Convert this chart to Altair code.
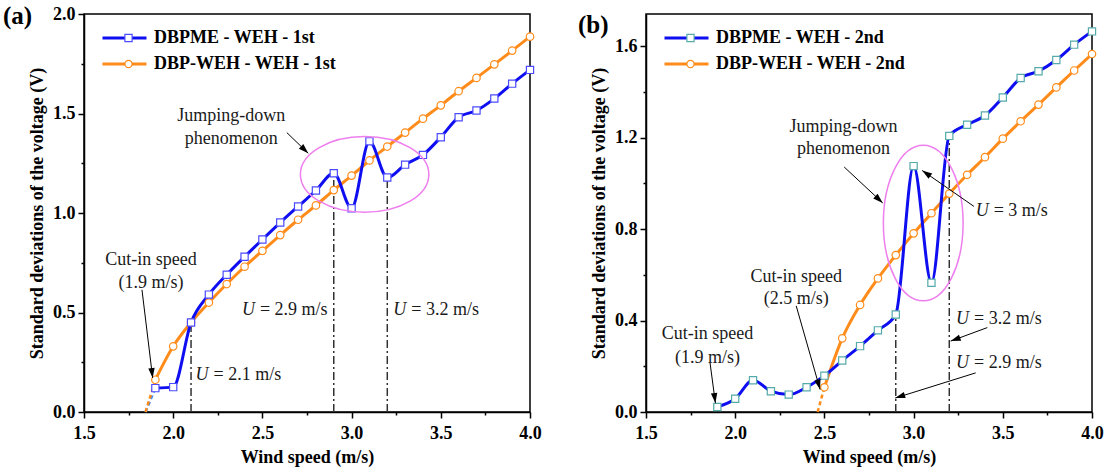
import math
import altair as alt
import pandas as pd

FONT = "Liberation Serif"
W, H = 446, 398

# ---------------- data: panel (a) ----------------
a_x = [1.9, 2.0, 2.1, 2.2, 2.3, 2.4, 2.5, 2.6, 2.7, 2.8, 2.9, 3.0,
       3.1, 3.2, 3.3, 3.4, 3.5, 3.6, 3.7, 3.8, 3.9, 4.0]
a_dbpme = [0.12, 0.125, 0.45, 0.59, 0.69, 0.78, 0.867, 0.952, 1.033, 1.113, 1.20, 1.024,
           1.36, 1.178, 1.243, 1.292, 1.381, 1.481, 1.515, 1.575, 1.65, 1.719]
a_dbpweh = [0.162, 0.33, 0.45, 0.55, 0.643, 0.73, 0.81, 0.889, 0.966, 1.038, 1.115, 1.188,
            1.264, 1.334, 1.404, 1.474, 1.541, 1.612, 1.679, 1.747, 1.816, 1.886]
a_names = ["DBPME - WEH - 1st", "DBP-WEH - WEH - 1st"]

# ---------------- data: panel (b) ----------------
b_x_blue = [1.9, 2.0, 2.1, 2.2, 2.3, 2.4, 2.5, 2.6, 2.7, 2.8, 2.9, 3.0,
            3.1, 3.2, 3.3, 3.4, 3.5, 3.6, 3.7, 3.8, 3.9, 4.0]
b_dbpme = [0.022, 0.058, 0.139, 0.091, 0.076, 0.108, 0.159, 0.225, 0.288, 0.357, 0.426, 1.075,
           0.565, 1.207, 1.256, 1.296, 1.375, 1.46, 1.49, 1.539, 1.606, 1.664]
b_x_orange = [2.5, 2.6, 2.7, 2.8, 2.9, 3.0, 3.1, 3.2, 3.3, 3.4, 3.5, 3.6, 3.7, 3.8, 3.9, 4.0]
b_dbpweh = [0.108, 0.322, 0.468, 0.584, 0.686, 0.781, 0.869, 0.955, 1.037, 1.114, 1.195,
            1.271, 1.344, 1.419, 1.493, 1.565]
b_names = ["DBPME - WEH - 2nd", "DBP-WEH - WEH - 2nd"]

# ---------------- ticks ----------------
x_ticks = [1.5, 1.75, 2.0, 2.25, 2.5, 2.75, 3.0, 3.25, 3.5, 3.75, 4.0]
ya_ticks = [0.0, 0.25, 0.5, 0.75, 1.0, 1.25, 1.5, 1.75, 2.0]
yb_ticks = [0.0, 0.2, 0.4, 0.6, 0.8, 1.0, 1.2, 1.4, 1.6]

# ---------------- annotations (a) ----------------
a_txt = ["Jumping-down", "phenomenon", "Cut-in speed", "(1.9 m/s)"]
a_txt_x = [2.326, 2.326, 1.875, 1.875]
a_txt_y = [1.485, 1.372, 0.765, 0.648]
a_u_x = [2.125, 2.385, 3.234]
a_u_y = [0.187, 0.514, 0.514]
a_u_rest = ["= 2.1 m/s", "= 2.9 m/s", "= 3.2 m/s"]
a_arr_x1 = [2.637, 1.825]
a_arr_y1 = [1.404, 0.614]
a_arr_x2 = [2.757, 1.885]
a_arr_y2 = [1.300, 0.171]
a_vl_x = [2.1, 2.9, 3.2]
a_vl_top = [0.45, 1.20, 1.178]
a_ell = (3.073, 1.194, 0.36, 0.19)   # centre x, centre y, half width, half height
a_ext_blue = ([1.845, 1.9], [0.0, 0.12])
a_ext_orange = ([1.845, 1.9], [0.0, 0.162])

# ---------------- annotations (b) ----------------
b_txt = ["Jumping-down", "phenomenon", "Cut-in speed", "(2.5 m/s)", "Cut-in speed", "(1.9 m/s)"]
b_txt_x = [2.607, 2.607, 2.342, 2.342, 1.845, 1.845]
b_txt_y = [1.246, 1.148, 0.592, 0.493, 0.342, 0.237]
b_u_x = [3.348, 3.238, 3.238]
b_u_y = [0.880, 0.405, 0.215]
b_u_rest = ["= 3 m/s", "= 3.2 m/s", "= 2.9 m/s"]
b_arr_x1 = [2.611, 3.338, 3.413, 3.348, 2.342, 1.859]
b_arr_y1 = [1.071, 0.899, 0.369, 0.171, 0.464, 0.215]
b_arr_x2 = [2.827, 3.048, 3.208, 2.897, 2.476, 1.889]
b_arr_y2 = [0.914, 1.056, 0.310, 0.061, 0.098, 0.039]
b_vl_x = [2.9, 3.2]
b_vl_top = [0.42, 1.20]
b_ell = (3.054, 0.826, 0.2235, 0.34)
b_ext_orange = ([2.462, 2.5], [0.0, 0.108])

BLUE = "#0E0EF0"
ORANGE = "#FF8C1A"
LIGHTBLUE = "#3C8CFF"
VIOLET = "#EE7FEE"
DARK = "#333333"

XMIN, XMAX = 1.5, 4.0
TXT = 18

AXIS_STYLE = dict(labelFont=FONT, labelFontSize=18, labelFontWeight="bold",
                  labelColor="black", titleFont=FONT, titleFontSize=18,
                  titleFontWeight="bold", titleColor="black", domainColor="black",
                  domainWidth=1.5, tickColor="black", tickWidth=1.5,
                  labelFlush=False, labelOverlap=False, grid=False)


def x_axis():
    return alt.Axis(
        values=x_ticks, title="Wind speed (m/s)",
        labelExpr="round(datum.value*100) % 50 == 0 ? format(datum.value, '.1f') : ''",
        tickSize={"condition": {"test": "round(datum.value*100) % 50 != 0", "value": 3}, "value": 6},
        labelPadding=6, titlePadding=6, **AXIS_STYLE,
    )


def y_axis(ticks, major_expr):
    return alt.Axis(
        values=ticks, title="Standard deviations of the voltage (V)",
        labelExpr=f"{major_expr} ? format(datum.value, '.1f') : ''",
        tickSize={"condition": {"test": f"!({major_expr})", "value": 3}, "value": 6},
        labelPadding=3, titlePadding=6, **AXIS_STYLE,
    )


def ellipse_path(r):
    k = 0.5523
    return (f"M 1 0 C 1 {k*r:.4f} {k} {r:.4f} 0 {r:.4f} "
            f"C {-k} {r:.4f} -1 {k*r:.4f} -1 0 "
            f"C -1 {-k*r:.4f} {-k} {-r:.4f} 0 {-r:.4f} "
            f"C {k} {-r:.4f} 1 {-k*r:.4f} 1 0 Z")


def panel(label, label_dx, names, ymax, yticks, major_expr,
          blue_x, blue_y, orange_x, orange_y, marker_stroke,
          txt, txt_x, txt_y, u_x, u_y, u_rest,
          ax1, ay1, ax2, ay2, vl_x, vl_top, ell, exts):
    xs = alt.Scale(domain=[XMIN, XMAX], nice=False, zero=False)
    ys = alt.Scale(domain=[0, ymax], nice=False, zero=False)
    xa = x_axis()
    ya = y_axis(yticks, major_expr)

    def X(f):
        return alt.X(f"{f}:Q", scale=xs, axis=xa)

    def Y(f):
        return alt.Y(f"{f}:Q", scale=ys, axis=ya)

    px = W / (XMAX - XMIN)
    py = H / ymax

    layers = []
    for (ex, ey, col) in exts:
        d = pd.DataFrame({"x": ex, "y": ey})
        layers.append(alt.Chart(d).mark_line(color=col, strokeWidth=2.5, strokeDash=[4, 3])
                      .encode(x=X("x"), y=Y("y")))
    vdf = pd.DataFrame({"x": vl_x, "y0": [0.0] * len(vl_x), "y1": vl_top})
    layers.append(alt.Chart(vdf).mark_rule(color=DARK, strokeWidth=1.5, strokeDash=[8, 3, 2, 3])
                  .encode(x=X("x"), y=Y("y0"), y2="y1"))
    bdf = pd.DataFrame({"x": blue_x, "y": blue_y})
    odf = pd.DataFrame({"x": orange_x, "y": orange_y})
    layers.append(alt.Chart(odf).mark_line(color=ORANGE, strokeWidth=3, interpolate="monotone")
                  .encode(x=X("x"), y=Y("y")))
    layers.append(alt.Chart(bdf).mark_line(color=BLUE, strokeWidth=3, interpolate="monotone")
                  .encode(x=X("x"), y=Y("y")))
    layers.append(alt.Chart(odf).mark_point(shape="circle", size=56, filled=True, fill="white",
                                            stroke=ORANGE, strokeWidth=1.2, opacity=1)
                  .encode(x=X("x"), y=Y("y")))
    layers.append(alt.Chart(bdf).mark_point(shape="square", size=52, filled=True, fill="white",
                                            stroke=marker_stroke, strokeWidth=1.2, opacity=1)
                  .encode(x=X("x"), y=Y("y")))
    cx, cy, rx, ry = ell
    rxp, ryp = rx * px, ry * py
    edf = pd.DataFrame({"x": [cx], "y": [cy]})
    layers.append(alt.Chart(edf).mark_point(shape=ellipse_path(ryp / rxp), size=(2 * rxp) ** 2,
                                            filled=False, stroke=VIOLET, strokeWidth=1.5, opacity=1)
                  .encode(x=X("x"), y=Y("y")))
    ang = [math.degrees(math.atan2((b - a) * px, (d - c) * py)) % 360
           for a, c, b, d in zip(ax1, ay1, ax2, ay2)]
    adf = pd.DataFrame({"x1": ax1, "y1": ay1, "x2": ax2, "y2": ay2, "ang": ang})
    layers.append(alt.Chart(adf).mark_rule(color="black", strokeWidth=1)
                  .encode(x=X("x1"), y=Y("y1"), x2="x2", y2="y2"))
    layers.append(alt.Chart(adf).mark_point(shape="M 0 0 L -0.32 1 L 0.32 1 Z", size=400,
                                            filled=True, color="black", opacity=1)
                  .encode(x=X("x2"), y=Y("y2"), angle=alt.Angle("ang:Q", scale=None)))
    tdf = pd.DataFrame({"x": txt_x, "y": txt_y, "t": txt})
    layers.append(alt.Chart(tdf).mark_text(font=FONT, fontSize=TXT, color="#1a1a1a",
                                           align="center", baseline="middle")
                  .encode(x=X("x"), y=Y("y"), text="t:N"))
    udf = pd.DataFrame({"x": u_x, "y": u_y, "u": ["U"] * len(u_x), "r": u_rest})
    layers.append(alt.Chart(udf).mark_text(font=FONT, fontSize=TXT, fontStyle="italic",
                                           color="#1a1a1a", align="left", baseline="middle")
                  .encode(x=X("x"), y=Y("y"), text="u:N"))
    layers.append(alt.Chart(udf).mark_text(font=FONT, fontSize=TXT, color="#1a1a1a",
                                           align="left", baseline="middle", dx=18)
                  .encode(x=X("x"), y=Y("y"), text="r:N"))
    # legends carried by empty layers; marker legend uses a distinct domain with no labels
    marker_keys = ["marker 1", "marker 2"]
    ldf = pd.DataFrame({"s": names, "x": [2.0, 2.0], "y": [0.5, 0.5]})
    mdf = pd.DataFrame({"m": marker_keys, "x": [2.0, 2.0], "y": [0.5, 0.5]})
    leg_line = alt.Legend(orient="none", legendX=17, legendY=11, title=None,
                          symbolType="stroke", symbolSize=1936, symbolStrokeWidth=3,
                          labelFont=FONT, labelFontSize=18, labelFontWeight="bold",
                          labelColor="black", labelLimit=500, clipHeight=26, rowPadding=0,
                          labelOffset=6, padding=0)
    leg_mark = alt.Legend(orient="none", legendX=17 + 22 - 3.5, legendY=11, title=None,
                          symbolSize=52, symbolStrokeWidth=1.2, symbolFillColor="white",
                          labelExpr="''", labelFontSize=18, clipHeight=26, rowPadding=0,
                          padding=0, zindex=1)
    layers.append(alt.Chart(ldf).transform_filter("false").mark_line(strokeWidth=3)
                  .encode(x=X("x"), y=Y("y"),
                          color=alt.Color("s:N", scale=alt.Scale(domain=names, range=[BLUE, ORANGE]),
                                          legend=leg_line)))
    layers.append(alt.Chart(mdf).transform_filter("false")
                  .mark_point(filled=True, fill="white", opacity=1, strokeWidth=1.2)
                  .encode(x=X("x"), y=Y("y"),
                          stroke=alt.Stroke("m:N", scale=alt.Scale(domain=marker_keys,
                                                                    range=[marker_stroke, ORANGE]),
                                            legend=leg_mark),
                          shape=alt.Shape("m:N", scale=alt.Scale(domain=marker_keys,
                                                                  range=["square", "circle"]),
                                          legend=leg_mark)))
    return alt.layer(*layers).properties(
        width=W, height=H,
        title=alt.TitleParams(text=label, anchor="start", frame="group", orient="top",
                              dx=label_dx, dy=24, offset=0, baseline="top",
                              font=FONT, fontSize=25, fontWeight="bold", color="black"),
    )


pa = panel("(a)", -81, a_names, 2.0, ya_ticks, "round(datum.value*100) % 50 == 0",
           a_x, a_dbpme, a_x, a_dbpweh, "#4B4BFF",
           a_txt, a_txt_x, a_txt_y, a_u_x, a_u_y, a_u_rest,
           a_arr_x1, a_arr_y1, a_arr_x2, a_arr_y2, a_vl_x, a_vl_top, a_ell,
           [(a_ext_blue[0], a_ext_blue[1], LIGHTBLUE), (a_ext_orange[0], a_ext_orange[1], ORANGE)])

pb = panel("(b)", -68, b_names, 1.74, yb_ticks, "round(datum.value*10) % 4 == 0",
           b_x_blue, b_dbpme, b_x_orange, b_dbpweh, "#55AAAA",
           b_txt, b_txt_x, b_txt_y, b_u_x, b_u_y, b_u_rest,
           b_arr_x1, b_arr_y1, b_arr_x2, b_arr_y2, b_vl_x, b_vl_top, b_ell,
           [(b_ext_orange[0], b_ext_orange[1], ORANGE)])

chart = (alt.hconcat(pa, pb, spacing=35)
         .resolve_scale(x="independent", y="independent", color="independent",
                        stroke="independent", shape="independent")
         .resolve_legend(color="independent", stroke="independent", shape="independent")
         .properties(padding={"left": 2, "top": 3, "right": 5, "bottom": 0},
                     background="white")
         .configure_view(stroke="black", strokeWidth=1.5)
         .configure_axis(**{k: v for k, v in AXIS_STYLE.items()
                            if k not in ("labelFlush", "labelOverlap", "grid")}))

chart.save("out.html", embed_options={"renderer": "svg", "actions": False})
